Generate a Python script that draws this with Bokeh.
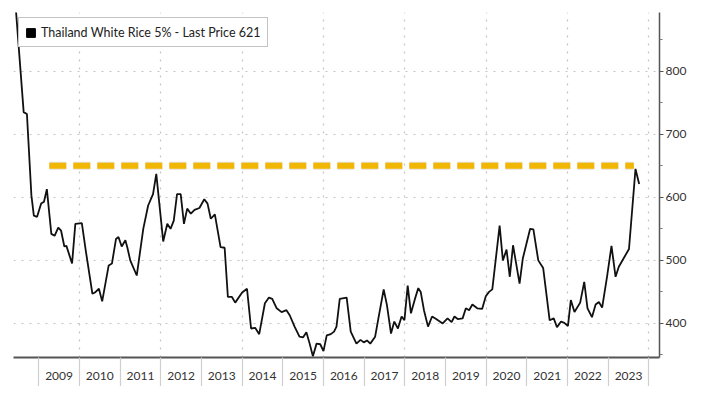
from bokeh.plotting import figure
from bokeh.models import (FixedTicker, CustomJSTickFormatter, Legend, LegendItem,
                          Range1d, ColumnDataSource)
from bokeh.embed import file_html
from bokeh.resources import INLINE

# ---- data (decimal year, USD/t) ----
dates = [
    2008.43, 2008.63, 2008.71, 2008.82, 2008.88, 2008.96, 2009.06, 2009.13, 2009.20, 2009.31,
    2009.39, 2009.48, 2009.55, 2009.63, 2009.68, 2009.82, 2009.90, 2010.06, 2010.16, 2010.32,
    2010.38, 2010.48, 2010.56, 2010.72, 2010.80, 2010.90, 2010.96, 2011.04, 2011.13, 2011.18,
    2011.25, 2011.41, 2011.57, 2011.69, 2011.81, 2011.89, 2012.06, 2012.16, 2012.24, 2012.32,
    2012.40, 2012.49, 2012.57, 2012.65, 2012.74, 2012.83, 2012.95, 2013.07, 2013.15, 2013.23,
    2013.33, 2013.47, 2013.57, 2013.65, 2013.75, 2013.83, 2014.00, 2014.12, 2014.22, 2014.32,
    2014.42, 2014.56, 2014.66, 2014.74, 2014.85, 2014.97, 2015.09, 2015.17, 2015.29, 2015.41,
    2015.50, 2015.58, 2015.66, 2015.74, 2015.83, 2015.92, 2016.00, 2016.08, 2016.18, 2016.26,
    2016.32, 2016.40, 2016.57, 2016.67, 2016.81, 2016.91, 2016.99, 2017.07, 2017.15, 2017.27,
    2017.35, 2017.48, 2017.56, 2017.66, 2017.74, 2017.83, 2017.92, 2017.99, 2018.07, 2018.15,
    2018.25, 2018.33, 2018.39, 2018.47, 2018.57, 2018.67, 2018.77, 2018.93, 2019.05, 2019.15,
    2019.22, 2019.30, 2019.42, 2019.50, 2019.58, 2019.66, 2019.78, 2019.90, 2019.99, 2020.07,
    2020.15, 2020.33, 2020.41, 2020.50, 2020.58, 2020.66, 2020.82, 2020.90, 2021.08, 2021.16,
    2021.28, 2021.40, 2021.56, 2021.66, 2021.74, 2021.84, 2021.92, 2022.01, 2022.08, 2022.17,
    2022.31, 2022.41, 2022.49, 2022.60, 2022.69, 2022.77, 2022.85, 2022.97, 2023.08, 2023.18,
    2023.26, 2023.51, 2023.67, 2023.76,
]
prices = [
    905, 735, 732, 603, 571, 569, 590, 593, 613, 542,
    539, 552, 547, 522, 523, 495, 558, 559, 514, 447,
    449, 455, 435, 492, 495, 534, 537, 522, 532, 520,
    500, 476, 550, 587, 605, 637, 530, 558, 550, 563,
    605, 605, 558, 582, 574, 580, 583, 597, 590, 566,
    573, 521, 520, 442, 442, 433, 449, 455, 392, 393,
    383, 432, 441, 439, 424, 418, 421, 413, 395, 379,
    378, 386, 368, 348, 368, 367, 356, 381, 383, 387,
    395, 439, 441, 387, 368, 374, 370, 373, 368, 379,
    408, 454, 429, 384, 403, 392, 411, 405, 460, 416,
    439, 456, 450, 421, 395, 411, 407, 400, 408, 402,
    411, 407, 408, 424, 421, 430, 424, 423, 443, 450,
    454, 555, 500, 517, 474, 524, 463, 503, 550, 549,
    500, 488, 405, 408, 394, 403, 401, 396, 437, 418,
    433, 466, 424, 410, 430, 434, 425, 474, 523, 474,
    490, 518, 645, 621,
]
years = list(range(2009, 2024))
year_bounds = list(range(2009, 2025))
even_bounds = list(range(2010, 2025, 2))
y_major = [400, 500, 600, 700, 800]
y_minor = [350, 450, 550, 650, 750, 850]

threshold_level = 650
threshold_start = 2009.26
threshold_end = 2023.63

legend_text = "Thailand White Rice 5% - Last Price 621"

FONT = "Lato"

p = figure(width=689, height=386, output_backend="svg", toolbar_location=None,
           x_range=Range1d(2008.38, 2024.26), y_range=Range1d(346, 893),
           y_axis_location="right", min_border_left=13, min_border_top=12,
           min_border_bottom=29, min_border_right=25, background_fill_color="white",
           border_fill_color="white")
p.outline_line_color = None

# grids
p.ygrid.ticker = FixedTicker(ticks=y_major)
p.ygrid.grid_line_color = "#c4c4c4"
p.ygrid.grid_line_dash = "2 6"
p.ygrid.grid_line_width = 1.2
p.xgrid.ticker = FixedTicker(ticks=even_bounds)
p.xgrid.grid_line_color = "#c4c4c4"
p.xgrid.grid_line_dash = "2 6"
p.xgrid.grid_line_width = 1.2

# x axis: year names centred in bands, separators as minor ticks
xa = p.xaxis[0]
xa.ticker = FixedTicker(ticks=[y + 0.5 for y in years], minor_ticks=year_bounds)
xa.formatter = CustomJSTickFormatter(code="return Math.floor(tick).toFixed(0);")
xa.major_tick_out = 0
xa.major_tick_in = 0
xa.minor_tick_out = 29
xa.minor_tick_in = 0
xa.minor_tick_line_color = "#cfcfcf"
xa.minor_tick_line_width = 1.2
xa.axis_line_color = "#555555"
xa.axis_line_width = 2
xa.major_label_standoff = -15
xa.major_label_text_font = FONT
xa.major_label_text_font_size = "12px"
xa.major_label_text_color = "#333333"

# y axis (right)
ya = p.yaxis[0]
ya.ticker = FixedTicker(ticks=y_major, minor_ticks=y_minor)
ya.major_tick_out = 4
ya.major_tick_in = 0
ya.minor_tick_out = 3
ya.minor_tick_in = 0
ya.major_tick_line_color = "#555555"
ya.minor_tick_line_color = "#777777"
ya.axis_line_color = "#555555"
ya.axis_line_width = 1.5
ya.major_label_standoff = 2
ya.major_label_text_font = FONT
ya.major_label_text_font_size = "12px"
ya.major_label_text_color = "#333333"

# threshold dashed line
p.line([threshold_start, threshold_end], [threshold_level, threshold_level],
       line_color="#a08a50", line_alpha=0.25, line_width=8, line_dash="17 7")
p.line([threshold_start, threshold_end], [threshold_level, threshold_level],
       line_color="#F2B705", line_width=6, line_dash="17 7")

# price line
src = ColumnDataSource(data=dict(x=dates, y=prices))
p.line("x", "y", source=src, line_color="#111111", line_width=1.8)

# legend (renderer with a single empty row so that the swatch is drawn)
nan = float("nan")
dummy = p.quad(left=[nan], right=[nan], top=[nan], bottom=[nan],
               fill_color="black", line_color="black")
legend = Legend(items=[LegendItem(label=legend_text, renderers=[dummy])],
                location="top_left", margin=5, padding=6, glyph_width=11, glyph_height=11,
                label_standoff=5, label_height=16, label_text_font=FONT,
                label_text_font_size="12.5px", label_text_color="#222222",
                border_line_color="#8a8a8a", border_line_width=1.2,
                background_fill_color="white", background_fill_alpha=1.0)
p.add_layout(legend)

open("out.html", "w").write(file_html(p, INLINE))
